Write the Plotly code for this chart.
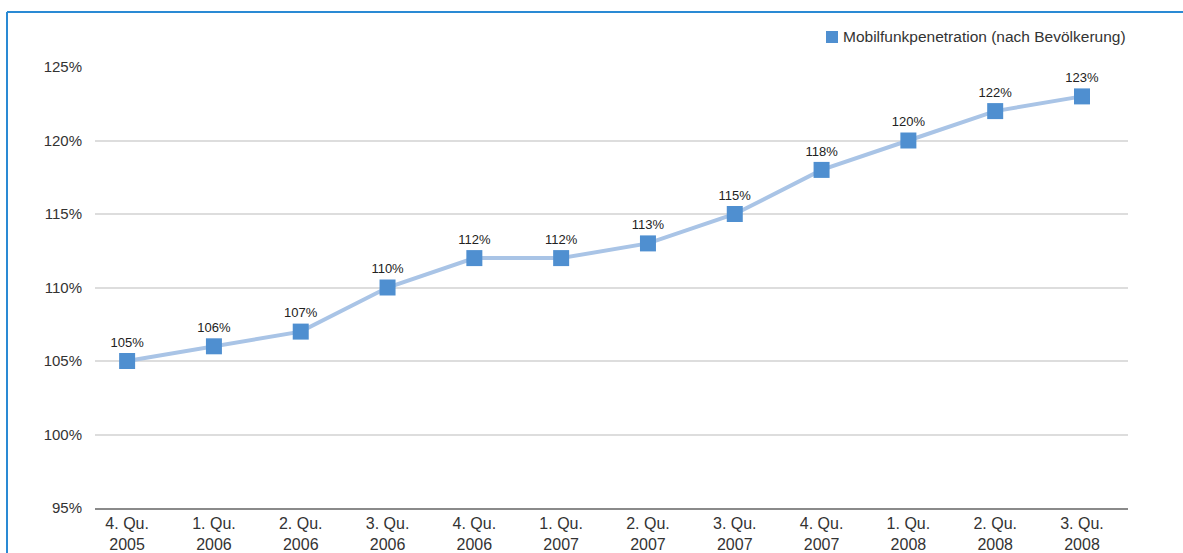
import plotly.graph_objects as go

quarters = ["4. Qu.<br>2005", "1. Qu.<br>2006", "2. Qu.<br>2006", "3. Qu.<br>2006",
            "4. Qu.<br>2006", "1. Qu.<br>2007", "2. Qu.<br>2007", "3. Qu.<br>2007",
            "4. Qu.<br>2007", "1. Qu.<br>2008", "2. Qu.<br>2008", "3. Qu.<br>2008"]
penetration = [105, 106, 107, 110, 112, 112, 113, 115, 118, 120, 122, 123]
y_ticks = [95, 100, 105, 110, 115, 120, 125]
series_name = "Mobilfunkpenetration (nach Bevölkerung)"

idx = list(range(len(quarters)))
W, H = 1183, 553
L, R, T, B = 95, 1128, 67, 508
BLUE = "#4f8fd0"


def px(xp):
    return (xp - L) / (R - L)


def py(yp):
    return (B - yp) / (B - T)


fig = go.Figure()
fig.add_trace(go.Scatter(
    x=idx, y=penetration, mode="lines+markers+text",
    line=dict(color="#a9c4e6", width=4),
    marker=dict(symbol="square", size=16, color=BLUE),
    text=[f"{v}%" for v in penetration], textposition="top center",
    textfont=dict(size=13, color="#222"),
    showlegend=False, hoverinfo="skip", cliponaxis=False))

fig.update_layout(
    width=W, height=H,
    margin=dict(l=L, r=W - R, t=T, b=H - B),
    paper_bgcolor="white", plot_bgcolor="white",
    font=dict(family="Liberation Sans, Arial", color="#333"),
    showlegend=False,
    xaxis=dict(range=[-0.37, 11.53], tickmode="array", tickvals=idx, ticktext=quarters,
               showgrid=False, showline=True, linecolor="#8a8a8a", linewidth=2,
               ticks="", tickfont=dict(size=16, color="#333"), zeroline=False,
               automargin=False),
    yaxis=dict(range=[95, 125], tickmode="array", tickvals=y_ticks,
               ticktext=[f"{v}%" for v in y_ticks],
               showgrid=True, gridcolor="#dddddd", gridwidth=1.5, zeroline=False,
               ticks="", tickfont=dict(size=15, color="#333"), ticklabelstandoff=12,
               automargin=False),
    annotations=[dict(
        xref="paper", yref="paper", x=1, xanchor="right",
        y=py(37), yanchor="middle", showarrow=False,
        text=series_name, font=dict(size=15.5, color="#333"))],
    shapes=[
        dict(type="rect", xref="paper", yref="paper",
             x0=px(826), x1=px(838), y0=py(31), y1=py(43),
             fillcolor=BLUE, line=dict(width=0)),
        dict(type="line", xref="paper", yref="paper",
             x0=px(7), x1=px(W), y0=py(12), y1=py(12),
             line=dict(color="#2a8ad4", width=2)),
        dict(type="line", xref="paper", yref="paper",
             x0=px(7), x1=px(7), y0=py(12), y1=py(H),
             line=dict(color="#2a8ad4", width=2)),
    ],
)
fig.write_html("out.html")
